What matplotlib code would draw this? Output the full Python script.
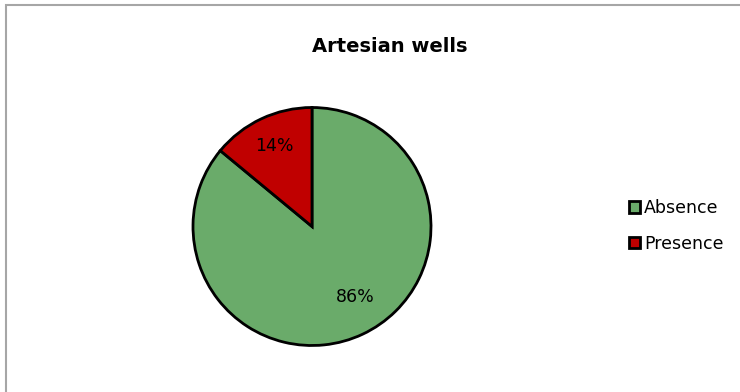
import matplotlib.pyplot as plt
from matplotlib.patches import Rectangle

labels = ['Absence', 'Presence']
shares = [86, 14]
colors = ['#6aab6a', '#c00000']

W, H = 740, 392
fig = plt.figure(figsize=(W / 100, H / 100), dpi=100)

# chart-area border (runs off the right and bottom edges)
fig.patches.append(Rectangle((6 / W, -0.05), 1.1, (H - 5) / H + 0.05,
                             transform=fig.transFigure, fill=False,
                             edgecolor='#a6a6a6', linewidth=1.5))

cx, cy, r = 312, 226.5, 119
pad = 1.05
ax = fig.add_axes([(cx - r * pad) / W, (H - cy - r * pad) / H,
                   2 * r * pad / W, 2 * r * pad / H])
wedges, _, autotexts = ax.pie(shares, colors=colors, startangle=90, counterclock=False,
                              autopct='%d%%', pctdistance=0.75,
                              wedgeprops=dict(edgecolor='black', linewidth=2),
                              textprops=dict(fontsize=12.5, color='black'))
# Excel places the big slice's label a bit off the mid-angle
x, y = autotexts[0].get_position()
autotexts[0].set_position((x + 0.04, y + 0.09))
ax.set_xlim(-pad, pad)
ax.set_ylim(-pad, pad)
ax.set_aspect('equal')
ax.axis('off')

fig.text(390 / W, 1 - 47 / H, 'Artesian wells', ha='center', va='center',
         fontsize=14, fontweight='bold')

fig.legend(wedges, labels, loc='center left', bbox_to_anchor=(613 / W, 1 - 226 / H),
           frameon=False, fontsize=12.5, handlelength=0.65, handleheight=0.65,
           handletextpad=0.25, labelspacing=1.0)

fig.savefig('out.png', dpi=100)
